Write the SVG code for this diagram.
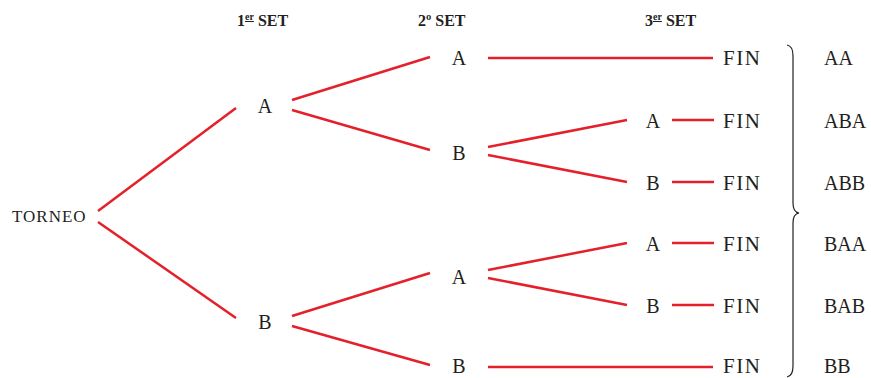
<svg xmlns="http://www.w3.org/2000/svg" width="871" height="378" viewBox="0 0 871 378">
<style>
.t{font-family:"Liberation Serif","Times New Roman",serif;font-size:20px;fill:#231f20}
.f{font-size:21px;letter-spacing:1.5px}
.h{font-family:"Liberation Serif","Times New Roman",serif;font-size:16px;font-weight:bold;fill:#231f20}
.s{font-size:10px}
.e{stroke:#e4202a;stroke-width:2.5;fill:none}
.br{stroke:#231f20;stroke-width:1.2;fill:none}
</style>
<rect width="871" height="378" fill="#fff"/>
<g id="headers">
<text class="h" x="237" y="26">1<tspan class="s" dy="-6" text-decoration="underline">er</tspan><tspan dy="6"> SET</tspan></text>
<text class="h" x="418" y="26">2º SET</text>
<text class="h" x="645" y="26">3<tspan class="s" dy="-6" text-decoration="underline">er</tspan><tspan dy="6"> SET</tspan></text>
</g>
<g id="connectors">
<line class="e" x1="98" y1="211" x2="236" y2="108"/>
<line class="e" x1="98" y1="222" x2="236" y2="318"/>
<line class="e" x1="292" y1="100" x2="430" y2="57"/>
<line class="e" x1="292" y1="110" x2="430" y2="150"/>
<line class="e" x1="292" y1="316" x2="430" y2="273"/>
<line class="e" x1="292" y1="326" x2="430" y2="365"/>
<line class="e" x1="488" y1="58" x2="713" y2="58"/>
<line class="e" x1="488" y1="147" x2="627" y2="120"/>
<line class="e" x1="488" y1="155" x2="627" y2="182"/>
<line class="e" x1="488" y1="270" x2="627" y2="243"/>
<line class="e" x1="488" y1="278" x2="627" y2="305"/>
<line class="e" x1="488" y1="367" x2="713" y2="367"/>
<line class="e" x1="672" y1="120" x2="714" y2="120"/>
<line class="e" x1="672" y1="182" x2="714" y2="182"/>
<line class="e" x1="672" y1="243" x2="714" y2="243"/>
<line class="e" x1="672" y1="305" x2="714" y2="305"/>
</g>
<g id="torneo"><text class="t" x="12" y="222" style="font-size:17px;letter-spacing:1px">TORNEO</text></g>
<g id="set1-A"><text class="t" x="265" y="113" text-anchor="middle">A</text></g>
<g id="set1-B"><text class="t" x="265" y="329" text-anchor="middle">B</text></g>
<g id="set2-A1"><text class="t" x="459" y="65" text-anchor="middle">A</text></g>
<g id="set2-B1"><text class="t" x="459" y="160" text-anchor="middle">B</text></g>
<g id="set2-A2"><text class="t" x="459" y="284" text-anchor="middle">A</text></g>
<g id="set2-B2"><text class="t" x="459" y="373" text-anchor="middle">B</text></g>
<g id="set3-A1"><text class="t" x="653" y="128" text-anchor="middle">A</text></g>
<g id="set3-B1"><text class="t" x="653" y="190" text-anchor="middle">B</text></g>
<g id="set3-A2"><text class="t" x="653" y="251" text-anchor="middle">A</text></g>
<g id="set3-B2"><text class="t" x="653" y="313" text-anchor="middle">B</text></g>
<g id="fin1"><text class="t f" x="723" y="65">FIN</text></g>
<g id="fin2"><text class="t f" x="723" y="128">FIN</text></g>
<g id="fin3"><text class="t f" x="723" y="190">FIN</text></g>
<g id="fin4"><text class="t f" x="723" y="251">FIN</text></g>
<g id="fin5"><text class="t f" x="723" y="313">FIN</text></g>
<g id="fin6"><text class="t f" x="723" y="373">FIN</text></g>
<g id="brace"><path class="br" d="M787,45 Q793,46 793,56 L793,203 Q793,212 799,213 Q793,214 793,223 L793,366 Q793,376 787,377"/></g>
<g id="results">
<text class="t" x="824" y="65">AA</text>
<text class="t" x="824" y="128">ABA</text>
<text class="t" x="824" y="190">ABB</text>
<text class="t" x="824" y="251">BAA</text>
<text class="t" x="824" y="313">BAB</text>
<text class="t" x="824" y="373">BB</text>
</g>
</svg>
